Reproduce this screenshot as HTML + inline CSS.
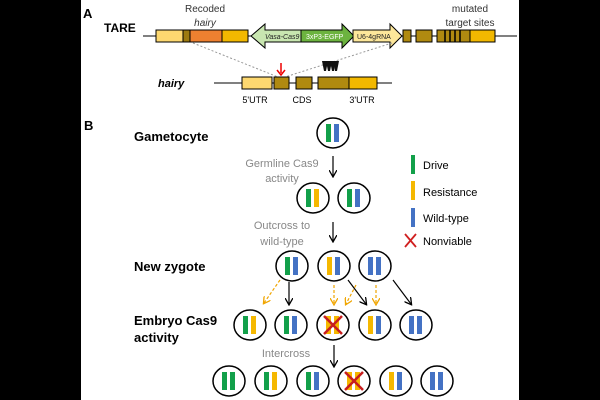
<!DOCTYPE html>
<html><head><meta charset="utf-8"><style>
html,body{margin:0;padding:0;background:#000;}
svg{display:block;}
text{font-family:"Liberation Sans",sans-serif;}
</style></head><body>
<svg width="600" height="400" viewBox="0 0 600 400" xmlns="http://www.w3.org/2000/svg">
<defs>
<marker id="ab" markerWidth="8" markerHeight="8" refX="6" refY="4" orient="auto" markerUnits="userSpaceOnUse"><path d="M0,0 L7,4 L0,8" fill="none" stroke="#000" stroke-width="1.3"/></marker>
<marker id="ao" markerWidth="8" markerHeight="8" refX="6" refY="4" orient="auto" markerUnits="userSpaceOnUse"><path d="M0,0 L7,4 L0,8" fill="none" stroke="#f0a500" stroke-width="1.3"/></marker>
<g id="cir"><ellipse cx="0" cy="0" rx="16" ry="15" fill="#fff" stroke="#000" stroke-width="1.5"/></g>
</defs>
<rect x="81" y="0" width="438" height="400" fill="#fff"/>
<!-- A -->
<text x="83" y="18" font-size="13" font-weight="bold">A</text>
<text x="104" y="32" font-size="12" font-weight="bold">TARE</text>
<text x="205" y="12" font-size="10" text-anchor="middle" fill="#333">Recoded</text>
<text x="205" y="26" font-size="10" text-anchor="middle" font-style="italic" fill="#333">hairy</text>
<text x="470" y="12" font-size="10" text-anchor="middle" fill="#333">mutated</text>
<text x="470" y="26" font-size="10" text-anchor="middle" fill="#333">target sites</text>
<line x1="143" y1="36" x2="517" y2="36" stroke="#000" stroke-width="1"/>
<g stroke="#000" stroke-width="1">
<rect x="156" y="30" width="27" height="12" fill="#fdd870"/>
<rect x="183" y="30" width="7" height="12" fill="#9c7a10"/>
<rect x="190" y="30" width="32" height="12" fill="#ee8030"/>
<rect x="222" y="30" width="26" height="12" fill="#f2b800"/>
<polygon points="251,36 265,24 265,30 301,30 301,42 265,42 265,48" fill="#c8e6b0"/>
<polygon points="301,30 342,30 342,24 354,36 342,48 342,42 301,42" fill="#6cb33f"/>
<polygon points="353,30 390,30 390,24 402,36 390,48 390,42 353,42" fill="#fde79a"/>
<rect x="403" y="30" width="8" height="12" fill="#b08a10"/>
<rect x="416" y="30" width="16" height="12" fill="#b08a10"/>
<rect x="437" y="30" width="33" height="12" fill="#b08a10"/>
<rect x="470" y="30" width="25" height="12" fill="#f2b800"/>
</g>
<g stroke="#000" stroke-width="1.5"><line x1="445" y1="30" x2="445" y2="42"/><line x1="450" y1="30" x2="450" y2="42"/><line x1="455" y1="30" x2="455" y2="42"/><line x1="460" y1="30" x2="460" y2="42"/></g>
<text x="265" y="39" font-size="7" font-style="italic" fill="#222">Vasa-Cas9</text>
<text x="306" y="39" font-size="7" fill="#fff">3xP3-EGFP</text>
<text x="357" y="39" font-size="7" fill="#222">U6-4gRNA</text>
<line x1="193" y1="43" x2="278" y2="77" stroke="#999" stroke-dasharray="2,2"/>
<line x1="392" y1="43" x2="285" y2="77" stroke="#999" stroke-dasharray="2,2"/>
<text x="158" y="87" font-size="11" font-weight="bold" font-style="italic">hairy</text>
<line x1="214" y1="83" x2="392" y2="83" stroke="#000"/>
<g stroke="#000" stroke-width="1">
<rect x="242" y="77" width="30" height="12" fill="#fdd870"/>
<rect x="274" y="77" width="15" height="12" fill="#b08a10"/>
<rect x="296" y="77" width="16" height="12" fill="#b08a10"/>
<rect x="318" y="77" width="31" height="12" fill="#b08a10"/>
<rect x="349" y="77" width="28" height="12" fill="#f2b800"/>
</g>
<line x1="281" y1="63" x2="281" y2="73" stroke="#e00" stroke-width="1.5"/>
<path d="M277,70 L281,75 L285,70" fill="none" stroke="#e00" stroke-width="1.5"/>
<g fill="#111"><path d="M322,61 l6,0 l-2,10 l-2,0z"/><path d="M326,61 l6,0 l-2,10 l-2,0z"/><path d="M330,61 l6,0 l-2,10 l-2,0z"/><path d="M334,61 l5,0 l-2,10 l-2,0z"/></g>
<text x="255" y="103" font-size="9" text-anchor="middle">5'UTR</text>
<text x="302" y="103" font-size="9" text-anchor="middle">CDS</text>
<text x="362" y="103" font-size="9" text-anchor="middle">3'UTR</text>
<!-- B -->
<text x="84" y="130" font-size="13" font-weight="bold">B</text>
<g font-size="13" font-weight="bold">
<text x="134" y="141">Gametocyte</text>
<text x="134" y="271">New zygote</text>
<text x="134" y="325">Embryo Cas9</text>
<text x="134" y="342">activity</text>
</g>
<g font-size="11" fill="#888" text-anchor="middle">
<text x="282" y="167">Germline Cas9</text>
<text x="282" y="182">activity</text>
<text x="282" y="229">Outcross to</text>
<text x="282" y="245">wild-type</text>
<text x="286" y="357">Intercross</text>
</g>
<!-- legend -->
<rect x="411" y="155" width="4" height="19" fill="#12a04a"/>
<rect x="411" y="181" width="4" height="19" fill="#f5b800"/>
<rect x="411" y="208" width="4" height="19" fill="#4472c4"/>
<path d="M405,234 L416,247 M416,234 L405,247" stroke="#d02020" stroke-width="1.8"/>
<g font-size="11"><text x="423" y="169">Drive</text><text x="423" y="196">Resistance</text><text x="423" y="222">Wild-type</text><text x="423" y="245">Nonviable</text></g>
<!-- arrows -->
<g stroke="#000" stroke-width="1.2" marker-end="url(#ab)">
<line x1="333" y1="156" x2="333" y2="176"/>
<line x1="333" y1="222" x2="333" y2="241"/>
<line x1="289" y1="282" x2="289" y2="304"/>
<line x1="348" y1="280" x2="366" y2="304"/>
<line x1="393" y1="280" x2="411" y2="304"/>
<line x1="334" y1="345" x2="334" y2="366"/>
</g>
<g stroke="#f0a500" stroke-width="1.2" stroke-dasharray="3,2" marker-end="url(#ao)">
<line x1="280" y1="280" x2="264" y2="303"/>
<line x1="334" y1="285" x2="334" y2="304"/>
<line x1="356" y1="285" x2="346" y2="304"/>
<line x1="376" y1="285" x2="376" y2="304"/>
</g>
<!-- circles -->
<g id="circles"></g>
<!-- helper: each circle: ellipse + two bars -->
<g stroke="#000" stroke-width="1.5" fill="#fff">
<ellipse cx="333" cy="133" rx="16" ry="15"/>
<ellipse cx="313" cy="198" rx="16" ry="15"/><ellipse cx="354" cy="198" rx="16" ry="15"/>
<ellipse cx="292" cy="266" rx="16" ry="15"/><ellipse cx="334" cy="266" rx="16" ry="15"/><ellipse cx="375" cy="266" rx="16" ry="15"/>
<ellipse cx="250" cy="325" rx="16" ry="15"/><ellipse cx="291" cy="325" rx="16" ry="15"/><ellipse cx="333" cy="325" rx="16" ry="15"/><ellipse cx="375" cy="325" rx="16" ry="15"/><ellipse cx="416" cy="325" rx="16" ry="15"/>
<ellipse cx="229" cy="381" rx="16" ry="15"/><ellipse cx="271" cy="381" rx="16" ry="15"/><ellipse cx="313" cy="381" rx="16" ry="15"/><ellipse cx="354" cy="381" rx="16" ry="15"/><ellipse cx="396" cy="381" rx="16" ry="15"/><ellipse cx="437" cy="381" rx="16" ry="15"/>
</g>
<g>
<!-- bars: left at cx-7, right at cx+1, width 5, height 18 -->
<rect x="326" y="124" width="5" height="18" fill="#12a04a"/><rect x="334" y="124" width="5" height="18" fill="#4472c4"/>
<rect x="306" y="189" width="5" height="18" fill="#12a04a"/><rect x="314" y="189" width="5" height="18" fill="#f5b800"/>
<rect x="347" y="189" width="5" height="18" fill="#12a04a"/><rect x="355" y="189" width="5" height="18" fill="#4472c4"/>
<rect x="285" y="257" width="5" height="18" fill="#12a04a"/><rect x="293" y="257" width="5" height="18" fill="#4472c4"/>
<rect x="327" y="257" width="5" height="18" fill="#f5b800"/><rect x="335" y="257" width="5" height="18" fill="#4472c4"/>
<rect x="368" y="257" width="5" height="18" fill="#4472c4"/><rect x="376" y="257" width="5" height="18" fill="#4472c4"/>
<rect x="243" y="316" width="5" height="18" fill="#12a04a"/><rect x="251" y="316" width="5" height="18" fill="#f5b800"/>
<rect x="284" y="316" width="5" height="18" fill="#12a04a"/><rect x="292" y="316" width="5" height="18" fill="#4472c4"/>
<rect x="326" y="316" width="5" height="18" fill="#f5b800"/><rect x="334" y="316" width="5" height="18" fill="#f5b800"/>
<rect x="368" y="316" width="5" height="18" fill="#f5b800"/><rect x="376" y="316" width="5" height="18" fill="#4472c4"/>
<rect x="409" y="316" width="5" height="18" fill="#4472c4"/><rect x="417" y="316" width="5" height="18" fill="#4472c4"/>
<rect x="222" y="372" width="5" height="18" fill="#12a04a"/><rect x="230" y="372" width="5" height="18" fill="#12a04a"/>
<rect x="264" y="372" width="5" height="18" fill="#12a04a"/><rect x="272" y="372" width="5" height="18" fill="#f5b800"/>
<rect x="306" y="372" width="5" height="18" fill="#12a04a"/><rect x="314" y="372" width="5" height="18" fill="#4472c4"/>
<rect x="347" y="372" width="5" height="18" fill="#f5b800"/><rect x="355" y="372" width="5" height="18" fill="#f5b800"/>
<rect x="389" y="372" width="5" height="18" fill="#f5b800"/><rect x="397" y="372" width="5" height="18" fill="#4472c4"/>
<rect x="430" y="372" width="5" height="18" fill="#4472c4"/><rect x="438" y="372" width="5" height="18" fill="#4472c4"/>
</g>
<path d="M324,316 L342,334 M342,316 L324,334" stroke="#c81e1e" stroke-width="2.5"/>
<path d="M345,372 L363,390 M363,372 L345,390" stroke="#c81e1e" stroke-width="2.5"/>
<rect x="519" y="0" width="81" height="400" fill="#000"/>
</svg>
</body></html>
